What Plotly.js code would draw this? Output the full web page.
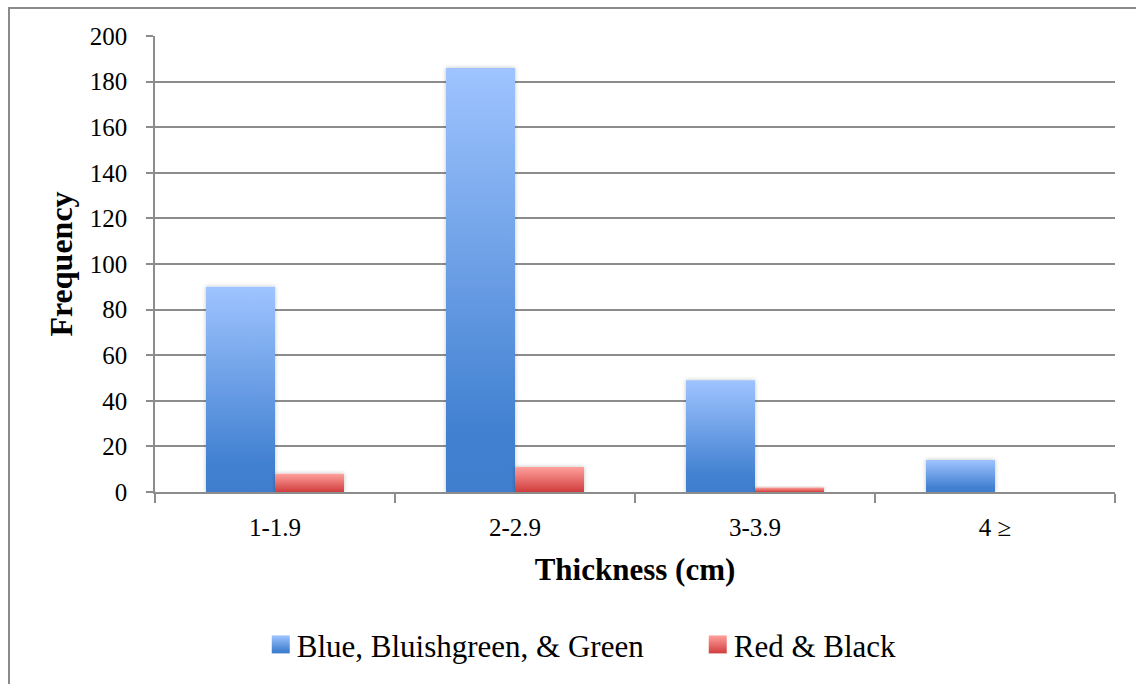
<!DOCTYPE html>
<html>
<head>
<meta charset="utf-8">
<script src="https://cdn.plot.ly/plotly-3.0.1.min.js"></script>
<style>
  html, body { margin: 0; padding: 0; background: #fff; }
  #wrap { position: relative; width: 1136px; height: 684px; overflow: hidden; }
  #frame { position: absolute; left: 8px; top: 7px; width: 1140px; height: 700px;
           border-left: 2px solid #8a8a8a; border-top: 2px solid #8a8a8a; box-sizing: border-box; }
  #chart { position: absolute; left: 0; top: 0; width: 1136px; height: 684px; }
</style>
</head>
<body>
<div id="wrap">
  <div id="frame"></div>
  <div id="chart"></div>
</div>
<script>
const categories = ["1-1.9", "2-2.9", "3-3.9", "4 \u2265"];
const blueValues = [90, 186, 49, 14];
const redValues = [8, 11, 2, 0];
const seriesNames = ["Blue, Bluishgreen, & Green", "Red & Black"];
const yTicks = [0, 20, 40, 60, 80, 100, 120, 140, 160, 180, 200];

const gridCol = "#8c8c8c";

const traces = [
  { type: "bar", name: seriesNames[0], x: categories, y: blueValues,
    marker: { color: "#6a9ce6", line: { width: 0 } }, hoverinfo: "x+y" },
  { type: "bar", name: seriesNames[1], x: categories, y: redValues,
    marker: { color: "#e86a6a", line: { width: 0 } }, hoverinfo: "x+y" }
];

const layout = {
  width: 1136, height: 684,
  paper_bgcolor: "rgba(0,0,0,0)", plot_bgcolor: "rgba(0,0,0,0)",
  margin: { l: 155, r: 21, t: 36, b: 192 },
  font: { family: "Liberation Serif", size: 25, color: "#000" },
  barmode: "group", bargap: 0.425, bargroupgap: 0,
  showlegend: true,
  legend: { orientation: "h", x: 0.106, xanchor: "left", y: -0.335, yanchor: "middle",
            bgcolor: "rgba(0,0,0,0)",
            font: { family: "Liberation Serif", size: 31, color: "#000" },
            itemclick: false, itemdoubleclick: false, traceorder: "normal" },
  xaxis: {
    type: "category", showgrid: false, zeroline: false,
    showline: true, linecolor: gridCol, linewidth: 1.5,
    ticks: "outside", tickson: "boundaries", ticklen: 9, tickwidth: 1.5, tickcolor: gridCol,
    ticklabelstandoff: 12,
    tickfont: { family: "Liberation Serif", size: 25, color: "#000" },
    title: { text: "Thickness (cm)", standoff: 19,
             font: { family: "Liberation Serif", size: 31, color: "#000", weight: "bold" } },
    fixedrange: true
  },
  yaxis: {
    range: [0, 200], tickvals: yTicks, ticktext: yTicks.map(String),
    showgrid: true, gridcolor: gridCol, gridwidth: 1.5,
    zeroline: false,
    showline: true, linecolor: gridCol, linewidth: 1.5,
    ticks: "outside", ticklen: 7, tickwidth: 1.5, tickcolor: gridCol,
    ticklabelstandoff: 14,
    tickfont: { family: "Liberation Serif", size: 25, color: "#000" },
    title: { text: "Frequency", standoff: 8,
             font: { family: "Liberation Serif", size: 32, color: "#000", weight: "bold" } },
    fixedrange: true
  }
};

function applyGradients(gd) {
  const svg = gd.querySelector(".main-svg");
  const NS = "http://www.w3.org/2000/svg";
  let defs = svg.querySelector("defs");
  if (!defs) { defs = document.createElementNS(NS, "defs"); svg.insertBefore(defs, svg.firstChild); }
  function grad(id, stops) {
    if (document.getElementById(id)) return;
    const g = document.createElementNS(NS, "linearGradient");
    g.setAttribute("id", id);
    g.setAttribute("x1", "0"); g.setAttribute("y1", "0");
    g.setAttribute("x2", "0"); g.setAttribute("y2", "1");
    stops.forEach(s => {
      const st = document.createElementNS(NS, "stop");
      st.setAttribute("offset", s[0]); st.setAttribute("stop-color", s[1]);
      g.appendChild(st);
    });
    defs.appendChild(g);
  }
  grad("gBlue", [["0", "#9fc4ff"], ["0.85", "#4281d1"], ["1", "#3f7ecd"]]);
  grad("gRed", [["0", "#ffa19c"], ["1", "#d03d3d"]]);
  if (!document.getElementById("barShadow")) {
    const f = document.createElementNS(NS, "filter");
    f.setAttribute("id", "barShadow");
    f.setAttribute("x", "-20%"); f.setAttribute("y", "-20%");
    f.setAttribute("width", "140%"); f.setAttribute("height", "140%");
    const ds = document.createElementNS(NS, "feDropShadow");
    ds.setAttribute("dx", "0"); ds.setAttribute("dy", "0");
    ds.setAttribute("stdDeviation", "2"); ds.setAttribute("flood-color", "#000");
    ds.setAttribute("flood-opacity", "0.25");
    f.appendChild(ds);
    defs.appendChild(f);
  }
  const ids = ["gBlue", "gRed"];
  gd.querySelectorAll(".barlayer .trace").forEach((t, i) => {
    t.querySelectorAll("path").forEach(p => {
      p.style.fill = "url(#" + ids[i] + ")";
      p.setAttribute("filter", "url(#barShadow)");
    });
  });
  const lg = gd.querySelector(".legend");
  if (lg) {
    lg.querySelectorAll("[clip-path]").forEach(el => el.removeAttribute("clip-path"));
  }
  const items = gd.querySelectorAll(".legend .traces");
  items.forEach((t, i) => {
    t.querySelectorAll(".legendpoints path").forEach(p => {
      p.style.fill = "url(#" + ids[i] + ")";
      p.setAttribute("d", "M9,9H-9V-9H9Z");
      p.setAttribute("transform", "translate(24,0)");
    });
  });
  if (items.length === 2) {
    const parse = s => { const m = /translate\(\s*([-\d.e]+)[ ,]+([-\d.e]+)/.exec(s || ""); return m ? [+m[1], +m[2]] : [0, 0]; };
    const a = parse(items[0].getAttribute("transform"));
    const b = parse(items[1].getAttribute("transform"));
    items[1].setAttribute("transform", "translate(" + (a[0] + 437) + "," + b[1] + ")");
  }
}

const gd = document.getElementById("chart");
Plotly.newPlot(gd, traces, layout, { displayModeBar: false, staticPlot: false, responsive: false })
  .then(() => applyGradients(gd));
</script>
</body>
</html>
